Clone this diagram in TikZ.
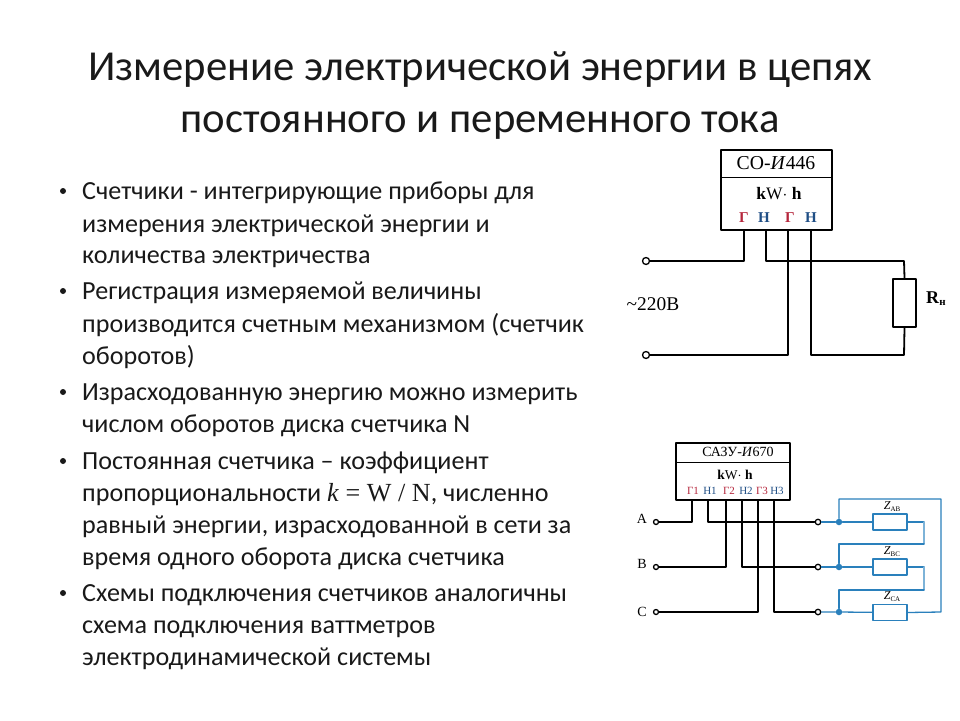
\documentclass[tikz,border=0pt]{standalone}
\usepackage{fontspec}
\setmainfont{Carlito}
\newfontfamily\schemefont{Liberation Serif}
\definecolor{gencol}{HTML}{B5263C}
\definecolor{loadcol}{HTML}{1F4E85}
\definecolor{zcol}{HTML}{2A80BC}
\definecolor{zlight}{HTML}{7DB3D8}
\newcommand{\lowtext}[2]{\raisebox{-2pt}{\fontsize{#1}{#1}\selectfont #2}}
\tikzset{
	titleline/.style={anchor=base,inner sep=0pt,font=\fontsize{42.7}{43}\selectfont,text=black!90},
	bodyline/.style={anchor=base west,inner sep=0pt,font=\fontsize{26.1}{27}\selectfont,text=black!90},
	bulletmark/.style={circle,fill=black!90,inner sep=0pt,minimum size=6pt},
	meterbox/.style={draw,line width=1.8pt,inner sep=0pt},
	terminal/.style={circle,draw,fill=white,inner sep=0pt,minimum size=7pt,line width=1.3pt},
	zdot/.style={circle,fill=zcol,inner sep=0pt,minimum size=6.5pt},
	wire/.style={line width=1.8pt},
	zwire/.style={line width=1.3pt,draw=zcol},
	zbox/.style={draw=zcol,line width=1.3pt,inner sep=0pt,minimum width=34pt,minimum height=16pt},
	schemetext/.style={inner sep=0pt,font=\schemefont\fontsize{#1}{#1}\selectfont},
	schemetext/.default=12
}
\begin{document}
\begin{tikzpicture}[x=1pt,y=-1pt,line join = round, line cap = round]
			\useasboundingbox (0,0) rectangle (960,720);
			% title
			\node[titleline] (T1) at (480,80) {Измерение электрической энергии в цепях};
			\node[titleline] (T2) at (480,132) {постоянного и переменного тока};
			% bullets
			\foreach \i/\y in {a/191,b/291,c/392,d/461,e/593}
				\node[bulletmark] (dot\i) at (63,\y) {};
			\node[bodyline] (L1) at (82,199) {Счетчики - интегрирующие приборы для};
			\node[bodyline] (L2) at (82,232) {измерения электрической энергии и};
			\node[bodyline] (L3) at (82,263) {количества электричества};
			\node[bodyline] (L4) at (82,299) {Регистрация измеряемой величины};
			\node[bodyline] (L5) at (82,332) {производится счетным механизмом (счетчик};
			\node[bodyline] (L6) at (82,364) {оборотов)};
			\node[bodyline] (L7) at (82,400) {Израсходованную энергию можно измерить};
			\node[bodyline] (L8) at (82,432) {числом оборотов диска счетчика N};
			\node[bodyline] (L9) at (82,469) {Постоянная счетчика -- коэффициент};
			\node[bodyline] (L10) at (82,501) {пропорциональности {\schemefont\textit{k} = W / N},~численно};
			\node[bodyline] (L11) at (82,533) {равный энергии, израсходованной в сети за};
			\node[bodyline] (L12) at (82,565) {время одного оборота диска счетчика};
			\node[bodyline] (L13) at (82,601) {Схемы подключения счетчиков аналогичны};
			\node[bodyline] (L14) at (82,633) {схема подключения ваттметров};
			\node[bodyline] (L15) at (82,665) {электродинамической системы};
			% single phase meter
			\node[meterbox,minimum width=111pt,minimum height=80pt] (M) at (776.5,190) {};
			\coordinate (Ma) at (721,177.5);
			\coordinate (Mb) at (832,177.5);
			\draw[wire] (Ma)--(Mb);
			\node[schemetext=19.7] (Mname) at (776,163) {СО-\textit{И}446};
			\node[schemetext=17.5] (Munit) at (779,194) {\textbf{k}W$\cdot$ \textbf{h}};
			\node[schemetext=15,text=gencol] (G1) at (744,218) {\textbf{Г}};
			\node[schemetext=15,text=loadcol] (N1) at (764,218) {\textbf{Н}};
			\node[schemetext=15,text=gencol] (G2) at (790,218) {\textbf{Г}};
			\node[schemetext=15,text=loadcol] (N2) at (811,218) {\textbf{Н}};
			\coordinate (A) at (744,230);
			\coordinate (B) at (766,230);
			\coordinate (C) at (788,230);
			\coordinate (D) at (811,230);
			\coordinate (E) at (744,261);
			\coordinate (F) at (766,261);
			\coordinate (G) at (904,261);
			\coordinate (H) at (788,355);
			\coordinate (I) at (811,355);
			\coordinate (J) at (904,355);
			\node[terminal] (P) at (646,261) {};
			\node[terminal] (Q) at (646,355) {};
			\node[draw,line width=1.8pt,inner sep=0pt,minimum width=23pt,minimum height=48pt] (R) at (904.5,303) {};
			\draw[wire] (A)--(E)--(P);
			\draw[wire] (B)--(F)--(G)--(R.north);
			\draw[wire] (C)--(H)--(Q);
			\draw[wire] (D)--(I)--(J)--(R.south);
			\node[schemetext=19.4] (V) at (653,304) {\textasciitilde220В};
			\node[schemetext=18,anchor=west] (Rn) at (926,299) {\textbf{R}\lowtext{11}{\textbf{н}}};
			% three phase meter
			\node[meterbox,minimum width=114pt,minimum height=57pt] (S) at (733,471.5) {};
			\coordinate (Sa) at (676,462.5);
			\coordinate (Sb) at (790,462.5);
			\draw[wire] (Sa)--(Sb);
			\node[schemetext=14] (Sname) at (738,452) {САЗУ-\textit{И}670};
			\node[schemetext=13.5] (Sunit) at (735,474.5) {\textbf{k}W$\cdot$ \textbf{h}};
			\foreach \n/\t/\x/\c in {a/Г1/693/gencol,b/Н1/710/loadcol,c/Г2/729/gencol,d/Н2/746/loadcol,e/Г3/762/gencol,f/Н3/777/loadcol}
				\node[schemetext=11,text=\c] (S\n) at (\x,490.5) {\t};
			\foreach \n/\x in {a/692,b/708,c/726,d/742,e/758,f/774}
				\coordinate (W\n) at (\x,500);
			\coordinate (Ua) at (692,522);
			\coordinate (Ub) at (708,522);
			\coordinate (Uc) at (726,567);
			\coordinate (Ud) at (742,567);
			\coordinate (Ue) at (758,612);
			\coordinate (Uf) at (774,612);
			\node[terminal,minimum size=5pt] (TA) at (656,522) {};
			\node[terminal,minimum size=5pt] (TB) at (656,567) {};
			\node[terminal,minimum size=5pt] (TC) at (656,612) {};
			\node[terminal,minimum size=5.5pt] (XA) at (818,522) {};
			\node[terminal,minimum size=5.5pt] (XB) at (818,567) {};
			\node[terminal,minimum size=5.5pt] (XC) at (818,612) {};
			\draw[wire] (Wa)--(Ua)--(TA);
			\draw[line width=1.1pt] (Wb)--(Ub)--(XA);
			\draw[wire] (Wc)--(Uc)--(TB);
			\draw[wire] (Wd)--(Ud)--(XB);
			\draw[wire] (We)--(Ue)--(TC);
			\draw[wire] (Wf)--(Uf)--(XC);
			\node[schemetext=14] (LA) at (642,519) {A};
			\node[schemetext=14] (LB) at (642,564) {B};
			\node[schemetext=14] (LC) at (642,612) {C};
			% load
			\node[zdot] (KA) at (839,522) {};
			\node[zdot] (KB) at (839,567) {};
			\node[zdot] (KC) at (839,612) {};
			\node[zbox] (ZA) at (890,522) {};
			\node[zbox] (ZB) at (890,567) {};
			\node[zbox] (ZC) at (890,612.5) {};
			\coordinate (Y1) at (839,499);
			\coordinate (Y2) at (941,499);
			\coordinate (Y3) at (941,612);
			\coordinate (Y4) at (924,522);
			\coordinate (Y5) at (924,544);
			\coordinate (Y6) at (839,544);
			\coordinate (Y7) at (924,567);
			\coordinate (Y8) at (924,590);
			\coordinate (Y9) at (839,590);
			\draw[zwire] (XA)--(KA)--(ZA);
			\draw[zwire,line width=1.7pt] (XB)--(KB)--(ZB);
			\draw[zwire] (XC)--(KC)--(ZC);
			\draw[zwire] (KA)--(Y1)--(Y2)--(Y3)--(ZC.east);
			\draw[zwire] (ZA.east)--(Y4);
			\draw[zwire,line width=1.7pt] (ZB.east)--(Y7);
			\draw[zwire,draw=zlight] (Y4)--(Y5);
			\draw[zwire,draw=zlight] (Y7)--(Y8);
			\draw[zwire] (Y5)--(Y6)--(KB);
			\draw[zwire] (Y8)--(Y9)--(KC);
			\node[schemetext=12] (ZAB) at (892,507) {\textit{Z}\lowtext{7}{AB}};
			\node[schemetext=12] (ZBC) at (892,552) {\textit{Z}\lowtext{7}{BC}};
			\node[schemetext=12] (ZCA) at (892,597) {\textit{Z}\lowtext{7}{CA}};
		\end{tikzpicture}
\end{document}
